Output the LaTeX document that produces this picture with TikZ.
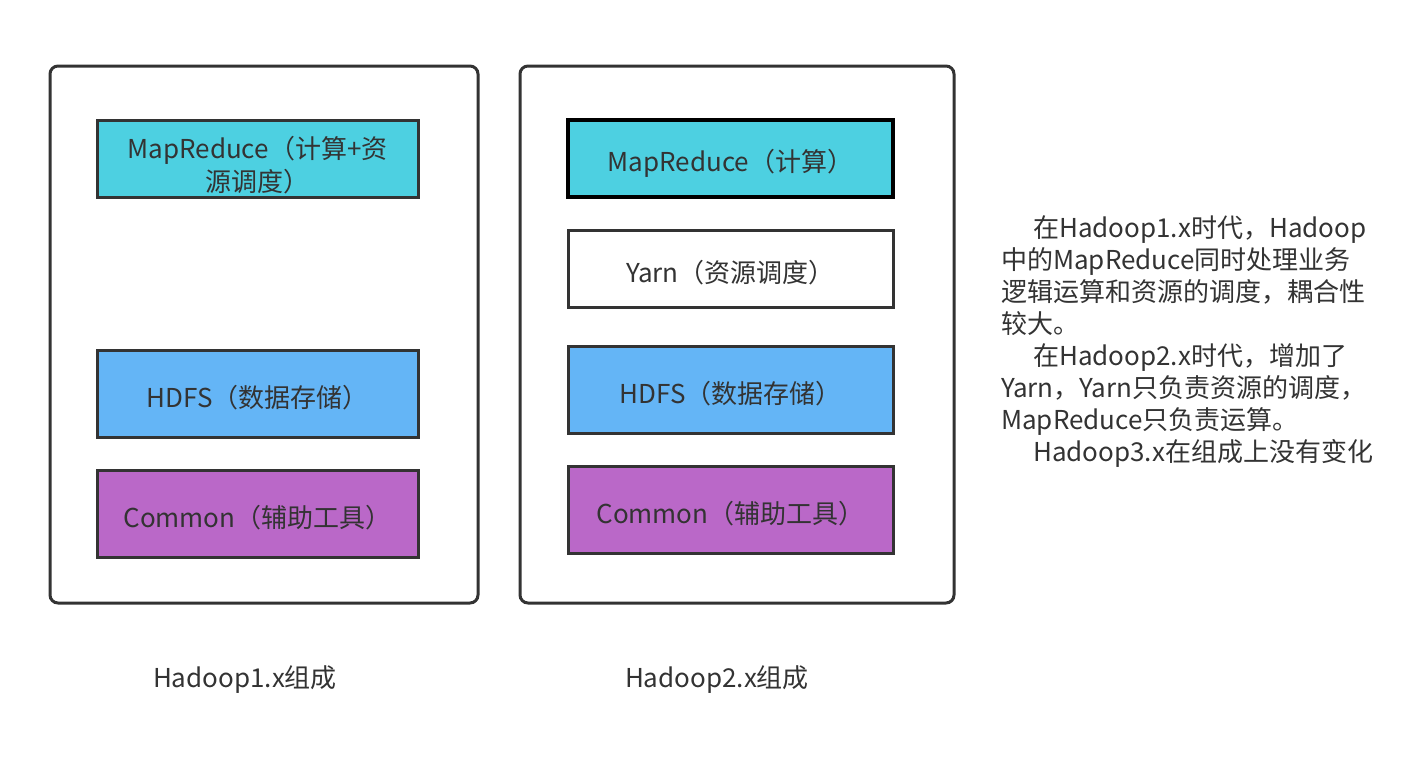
\documentclass[tikz,border=0pt]{standalone}
\usepackage{fontspec}
\setmainfont{Noto Sans CJK SC}
\usetikzlibrary{positioning}
\definecolor{inkgray}{HTML}{333333}
\definecolor{mrcyan}{HTML}{4DD0E1}
\definecolor{hdfsblue}{HTML}{64B5F6}
\definecolor{compurple}{HTML}{BA68C8}
\tikzset{
  frame/.style={draw=inkgray, line width=3pt, rounded corners=8pt},
  layer/.style={draw=inkgray, line width=3pt, rectangle, minimum width=321pt, minimum height=77pt, inner sep=0pt, text=inkgray, font=\fontsize{26}{33}\selectfont, align=center, execute at begin node={\rule{0pt}{31pt}}},
  caption/.style={text=inkgray, font=\fontsize{26}{32}\selectfont}
}
\begin{document}
\begin{tikzpicture}[x=1pt, y=-1pt]
  \useasboundingbox (0,0) rectangle (1428,764);

  % Hadoop 1.x
  \draw[frame] (50,66) rectangle (478,603);
  \node[layer, fill=mrcyan] (mr1) at (257.5,158.5) {\rule{0pt}{35pt}MapReduce（计算+资\\源调度）};
  \node[layer, fill=hdfsblue, minimum height=87pt] (hdfs1) at (257.5,393.5) {HDFS（数据存储）};
  \node[layer, fill=compurple, minimum height=87pt] (com1) at (257.5,513.5) {Common（辅助工具）};
  \node[caption] (cap1) at (245,680) {Hadoop1.x组成};

  % Hadoop 2.x
  \draw[frame] (520,66) rectangle (954,603);
  \node[layer, fill=mrcyan, draw=black, line width=4pt, minimum width=325pt] (mr2) at (730.5,158.5) {MapReduce（计算）};
  \node[layer, fill=white, minimum width=325pt] (yarn2) at (730.5,268.5) {Yarn（资源调度）};
  \node[layer, fill=hdfsblue, minimum width=325pt, minimum height=87pt] (hdfs2) at (730.5,389.5) {HDFS（数据存储）};
  \node[layer, fill=compurple, minimum width=325pt, minimum height=87pt] (com2) at (730.5,509.5) {Common（辅助工具）};
  \node[caption] (cap2) at (717,680) {Hadoop2.x组成};

  % notes
  \node[caption, anchor=north west, align=left, inner sep=0pt] (note) at (1001,215) {%
    \hspace*{32pt}在Hadoop1.x时代，Hadoop\\
    中的MapReduce同时处理业务\\
    逻辑运算和资源的调度，耦合性\\
    较大。\\
    \hspace*{32pt}在Hadoop2.x时代，增加了\\
    Yarn，Yarn只负责资源的调度，\\
    MapReduce只负责运算。\\
    \hspace*{32pt}Hadoop3.x在组成上没有变化};
\end{tikzpicture}
\end{document}
